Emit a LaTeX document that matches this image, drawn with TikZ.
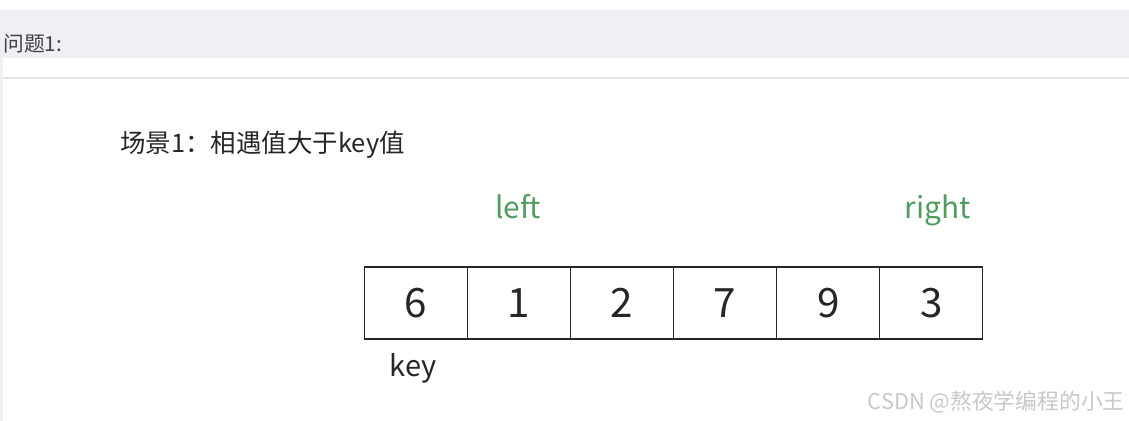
\documentclass[tikz,border=0pt]{standalone}
\usepackage{fontspec}
\setmainfont{Noto Sans CJK SC}
\usepackage{tikz}
\definecolor{barGray}{RGB}{238,240,243}
\definecolor{lineGray}{RGB}{226,228,231}
\definecolor{leftGreen}{RGB}{82,156,98}
\definecolor{markGray}{RGB}{200,200,200}
\tikzset{
    cell/.style={draw=black!85, line width=0.6pt, minimum width=2.06cm, minimum height=1.44cm,
        inner sep=0pt, font=\fontsize{23}{23}\selectfont, text=black!85},
    ptr/.style={text=leftGreen, anchor=base, font=\fontsize{17}{18}\selectfont},
}

\begin{document}
\begin{tikzpicture}[x=0.02cm, y=-0.02cm]
                \useasboundingbox (0,0) rectangle (1129,421);
                \fill[barGray] (0,10) rectangle (1129,58);
                \fill[barGray] (0,58) rectangle (3,421);
                \draw[lineGray, line width=1pt] (3,78) -- (1129,78);
                \node[anchor=west, inner sep=0pt, text=black!75, font=\fontsize{11.8}{12}\selectfont] (head) at (3,44) {问题1:};
                \node[anchor=west, inner sep=0pt, text=black!85, font=\fontsize{14.5}{15}\selectfont] (title) at (120,145) {场景1：相遇值大于key值};
                \foreach \v [count=\i] in {6,1,2,7,9,3}
                    \node[cell] (c\i) at ({364+103.17*(\i-0.5)},303) {\v};
                \node[ptr] (left) at (518,219) {left};
                \node[ptr] (right) at (938,219) {right};
                \node[text=black!85, font=\fontsize{16.5}{17}\selectfont] (key) at (413,368) {key};
                \node[anchor=east, inner sep=0pt, text=markGray, font=\fontsize{12.4}{13}\selectfont] (mark) at (1125,402) {CSDN @熬夜学编程的小王};
            \end{tikzpicture}
\end{document}
